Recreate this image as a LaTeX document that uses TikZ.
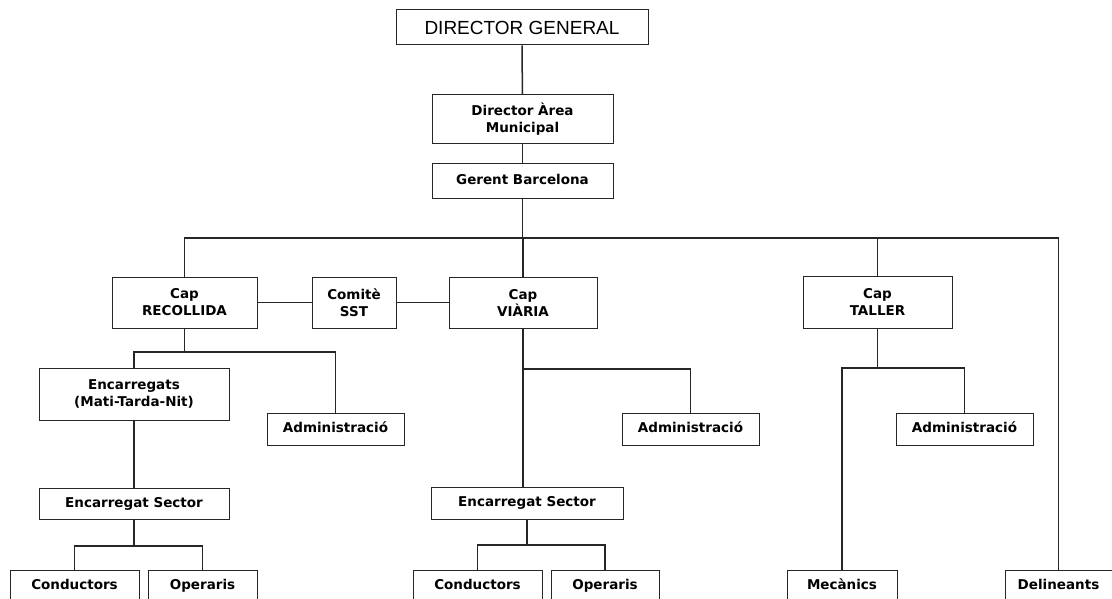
\documentclass[tikz,border=0pt]{standalone}
\usepackage{fontspec}
\setmainfont{Liberation Sans}
\newfontfamily\labfont{DejaVu Sans}
\begin{document}
\begin{tikzpicture}[x=1pt,y=-1pt,
  box/.style={draw=black!85,line width=1pt,inner sep=0pt,align=center,
    font=\labfont\bfseries\fontsize{13.5}{17}\selectfont},
  oneline/.style={text height=10pt,text depth=3pt},
  link/.style={draw=black!85,line width=1.5pt}]
\useasboundingbox (0,0) rectangle (1112,599);
\clip (0,0) rectangle (1112,599);
\fill[white] (0,0) rectangle (1112,599);
% nodes
\node[box,minimum width=252pt,minimum height=35pt,font=\fontsize{19}{22}\selectfont] (dg) at (522,27.5) {DIRECTOR GENERAL};
\node[box,minimum width=181pt,minimum height=49pt] (dam) at (522.5,119.5) {Director Àrea\\Municipal};
\node[box,oneline,minimum width=181pt,minimum height=35pt] (gb) at (522.5,181.5) {Gerent Barcelona};
\node[box,minimum width=145pt,minimum height=51pt] (capR) at (184.5,302.5) {Cap\\RECOLLIDA};
\node[box,minimum width=84pt,minimum height=51pt] (comite) at (354,302.5) {Comitè\\SST};
\node[box,minimum width=148pt,minimum height=51pt] (capV) at (523,302.5) {Cap\\VIÀRIA};
\node[box,minimum width=149pt,minimum height=52pt] (capT) at (877.5,302) {Cap\\TALLER};
\node[box,minimum width=190pt,minimum height=52pt] (encR) at (134,394) {Encarregats\\(Mati-Tarda-Nit)};
\node[box,oneline,minimum width=137pt,minimum height=32pt] (admR) at (335.5,429) {Administració};
\node[box,oneline,minimum width=190pt,minimum height=31pt] (secR) at (134,503.5) {Encarregat Sector};
\node[box,oneline,minimum width=129pt,minimum height=32pt] (condR) at (74.5,586) {Conductors};
\node[box,oneline,minimum width=109pt,minimum height=32pt] (opR) at (202.5,586) {Operaris};
\node[box,oneline,minimum width=137pt,minimum height=32pt] (admV) at (690.5,429) {Administració};
\node[box,oneline,minimum width=192pt,minimum height=32pt] (secV) at (527,503) {Encarregat Sector};
\node[box,oneline,minimum width=129pt,minimum height=32pt] (condV) at (477.5,586) {Conductors};
\node[box,oneline,minimum width=108pt,minimum height=32pt] (opV) at (605,586) {Operaris};
\node[box,oneline,minimum width=137pt,minimum height=32pt] (admT) at (964.5,429) {Administració};
\node[box,oneline,minimum width=110pt,minimum height=32pt] (mec) at (842,586) {Mecànics};
\node[box,oneline,minimum width=107pt,minimum height=32pt] (del) at (1058.5,586) {Delineants};
% junction levels
\coordinate (busY) at (0,238);
\coordinate (jR) at (0,352);
\coordinate (kR) at (0,546);
\coordinate (jV) at (0,369);
\coordinate (kV) at (0,545);
\coordinate (jT) at (0,368);
% connectors
\draw[link] (dg) -- (dam);
\draw[link] (dam) -- (gb);
\draw[link] (gb.south) -- (gb.south |- busY);
\draw[link] (capR.north) |- (del.north |- busY) -- (del.north);
\draw[link] (capV.north) -- (capV.north |- busY);
\draw[link] (capT.north) -- (capT.north |- busY);
\draw[link] (capR.east) -- (comite.west);
\draw[link] (comite.east) -- (capV.west);
% recollida
\draw[link] (capR.south) -- (capR.south |- jR);
\draw[link] (encR.north) |- (admR.north |- jR) -- (admR.north);
\draw[link] (encR.south) -- (secR.north);
\draw[link] (secR.south) -- (secR.south |- kR);
\draw[link] (condR.north) |- (opR.north |- kR) -- (opR.north);
% viaria
\draw[link] (capV.south) -- (capV.south |- secV.north);
\draw[link] (capV.south |- jV) -| (admV.north);
\draw[link] (secV.south) -- (secV.south |- kV);
\draw[link] (condV.north) |- (opV.north |- kV) -- (opV.north);
% taller
\draw[link] (capT.south) -- (capT.south |- jT);
\draw[link] (mec.north) |- (admT.north |- jT) -- (admT.north);
\end{tikzpicture}
\end{document}
